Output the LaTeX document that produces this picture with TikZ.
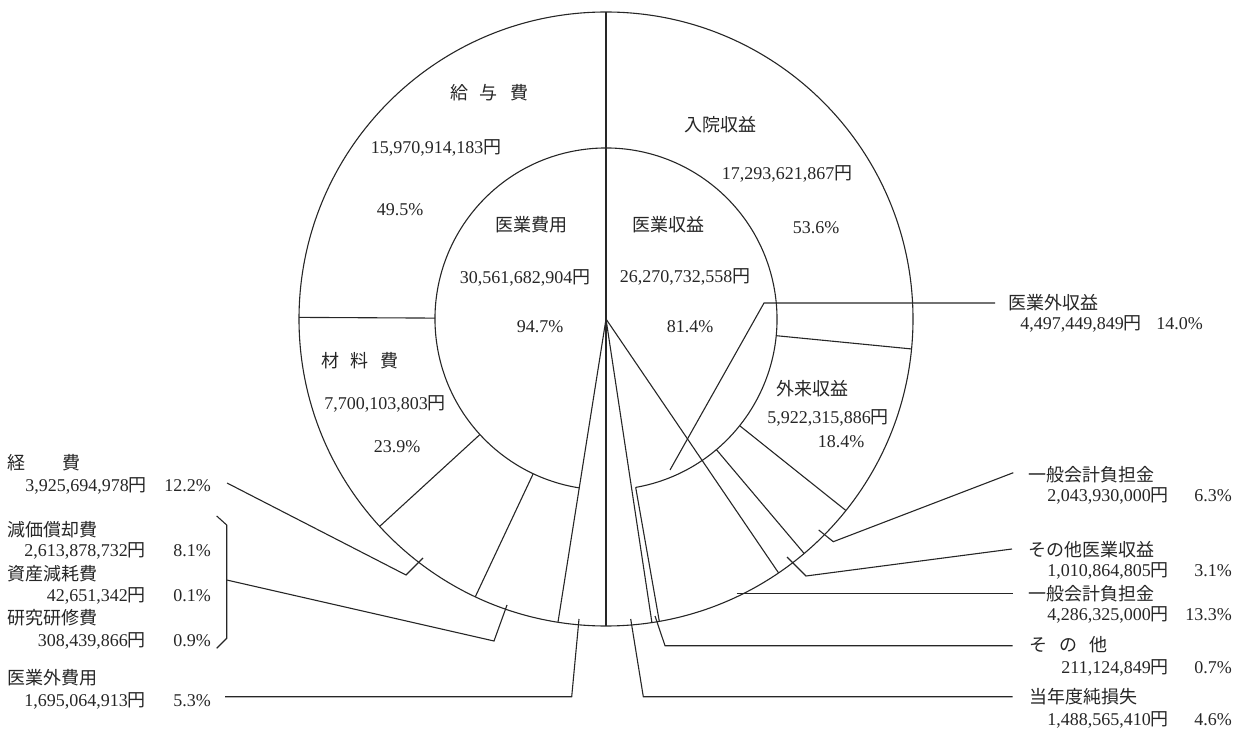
\documentclass[tikz,border=0pt]{standalone}
\usepackage{fontspec}
\setmainfont{Liberation Serif}
\newfontfamily\jp{Noto Sans CJK JP}
\usetikzlibrary{calc}
\newcommand{\JPyen}{{\jp 円}}
\begin{document}
\begin{tikzpicture}[x=1pt,y=1pt,
  font=\fontsize{18}{21}\selectfont,
  ring/.style={draw=black!85, line width=1.1pt},
  axisline/.style={draw=black!85, line width=1.6pt},
  leader/.style={draw=black!85, line width=1.1pt},
  lbl/.style={inner sep=0pt, anchor=base, text=black!85},
  lw/.style={inner sep=0pt, anchor=base west, text=black!85},
  le/.style={inner sep=0pt, anchor=base east, text=black!85}]
\useasboundingbox (0,0) rectangle (1242,729);
\coordinate (O) at (606,410);
% rings
\draw[ring] (O) circle (307pt);
\draw[ring] ($(O)+(-80:171pt)$) arc[start angle=-80, end angle=261, radius=171pt];
% full centre lines
\draw[axisline] ($(O)+(0,307pt)$) -- ($(O)+(0,-307pt)$);
\draw[ring] (O) -- ($(O)+(261:307pt)$);
\draw[ring] (O) -- ($(O)+(-81.4:307pt)$);
\draw[ring] (O) -- ($(O)+(-55.8:307pt)$);
% ring-only dividers
\foreach \a in {179.7,222.5,244.8,-80,-49.8,-38.6,-5.6}
  \draw[ring] ($(O)+(\a:171pt)$) -- ($(O)+(\a:307pt)$);
% ring labels
\node[lbl] (kyuyo) at (489,629.5) {\jp 給\kern12pt 与\kern12pt 費};
\node[lbl] (kyuyoV) at (436,575.5) {15,970,914,183\JPyen};
\node[lbl] (kyuyoP) at (400,513.5) {49.5\%};
\node[lbl] (nyuin) at (720,597.5) {\jp 入院収益};
\node[lbl] (nyuinV) at (787,549.5) {17,293,621,867\JPyen};
\node[lbl] (nyuinP) at (816,495.5) {53.6\%};
\node[lbl] (ihiyo) at (531,497.5) {\jp 医業費用};
\node[lbl] (ihiyoV) at (525,445.5) {30,561,682,904\JPyen};
\node[lbl] (ihiyoP) at (540,396.5) {94.7\%};
\node[lbl] (ishu) at (668,497.5) {\jp 医業収益};
\node[lbl] (ishuV) at (685,446.5) {26,270,732,558\JPyen};
\node[lbl] (ishuP) at (690,396.5) {81.4\%};
\node[lbl] (zairyo) at (360,361.5) {\jp 材\kern12pt 料\kern12pt 費};
\node[lbl] (zairyoV) at (385,319.5) {7,700,103,803\JPyen};
\node[lbl] (zairyoP) at (397,276.5) {23.9\%};
\node[lbl] (gairai) at (812,333.5) {\jp 外来収益};
\node[lbl] (gairaiV) at (828,305.5) {5,922,315,886\JPyen};
\node[lbl] (gairaiP) at (841,281.5) {18.4\%};
% right labels
\node[lw] (r1t) at (1008,419.5) {\jp 医業外収益};
\node[le] (r1v) at (1142,399) {4,497,449,849\JPyen};
\node[le] (r1p) at (1203,399) {14.0\%};
\node[lw] (r2t) at (1028,247.5) {\jp 一般会計負担金};
\node[le] (r2v) at (1169,227.5) {2,043,930,000\JPyen};
\node[le] (r2p) at (1232,227.5) {6.3\%};
\node[lw] (r3t) at (1028,173) {\jp その他医業収益};
\node[le] (r3v) at (1169,153) {1,010,864,805\JPyen};
\node[le] (r3p) at (1232,153) {3.1\%};
\node[lw] (r4t) at (1028,129) {\jp 一般会計負担金};
\node[le] (r4v) at (1169,108.5) {4,286,325,000\JPyen};
\node[le] (r4p) at (1232,108.5) {13.3\%};
\node[lw] (r5t) at (1029,78) {\jp そ\kern12pt の\kern12pt 他};
\node[le] (r5v) at (1169,56) {211,124,849\JPyen};
\node[le] (r5p) at (1232,56) {0.7\%};
\node[lw] (r6t) at (1029,26) {\jp 当年度純損失};
\node[le] (r6v) at (1169,4) {1,488,565,410\JPyen};
\node[le] (r6p) at (1232,4) {4.6\%};
% left labels
\node[lw] (l1t) at (7,260) {\jp 経\kern37pt 費};
\node[le] (l1v) at (147,237.5) {3,925,694,978\JPyen};
\node[le] (l1p) at (211,237.5) {12.2\%};
\node[lw] (l2t) at (7,193) {\jp 減価償却費};
\node[le] (l2v) at (146,172.5) {2,613,878,732\JPyen};
\node[le] (l2p) at (211,172.5) {8.1\%};
\node[lw] (l3t) at (7,149) {\jp 資産減耗費};
\node[le] (l3v) at (146,128) {42,651,342\JPyen};
\node[le] (l3p) at (211,128) {0.1\%};
\node[lw] (l4t) at (7,105) {\jp 研究研修費};
\node[le] (l4v) at (146,83) {308,439,866\JPyen};
\node[le] (l4p) at (211,83) {0.9\%};
\node[lw] (l5t) at (7,45) {\jp 医業外費用};
\node[le] (l5v) at (146,23) {1,695,064,913\JPyen};
\node[le] (l5p) at (211,23) {5.3\%};
% leader coordinates
\coordinate (a1) at (670,259);   \coordinate (b1) at (764,426);   \coordinate (c1) at (995,426);
\coordinate (a2) at (818.7,199); \coordinate (b2) at (833.3,187.3); \coordinate (c2) at (1013.3,256.3);
\coordinate (a3) at (787,172);   \coordinate (b3) at (806,153);   \coordinate (c3) at (1012,180);
\coordinate (a4) at (736.6,135.7); \coordinate (c4) at (1012.7,135.7);
\coordinate (a5) at (655,113);   \coordinate (b5) at (665,83.3);  \coordinate (c5) at (1012.7,83.3);
\coordinate (a6) at (630.7,110); \coordinate (b6) at (643.3,32.3); \coordinate (c6) at (1012.7,32.3);
\coordinate (a7) at (423,171);   \coordinate (b7) at (406,154);   \coordinate (c7) at (227,246);
\coordinate (a8) at (507,124);   \coordinate (b8) at (494,88);    \coordinate (c8) at (226.7,149);
\coordinate (a9) at (579,110);   \coordinate (b9) at (571.7,32.3); \coordinate (c9) at (225,32.3);
\coordinate (k1) at (216.7,213); \coordinate (k2) at (226.7,204); \coordinate (k3) at (226.7,90.7); \coordinate (k4) at (216.7,80.7);
\draw[leader] (a1) -- (b1) -- (c1);
\draw[leader] (a2) -- (b2) -- (c2);
\draw[leader] (a3) -- (b3) -- (c3);
\draw[leader] (a4) -- (c4);
\draw[leader] (a5) -- (b5) -- (c5);
\draw[leader] (a6) -- (b6) -- (c6);
\draw[leader] (a7) -- (b7) -- (c7);
\draw[leader] (a8) -- (b8) -- (c8);
\draw[leader] (a9) -- (b9) -- (c9);
\draw[leader] (k1) -- (k2) -- (k3) -- (k4);
\end{tikzpicture}
\end{document}
